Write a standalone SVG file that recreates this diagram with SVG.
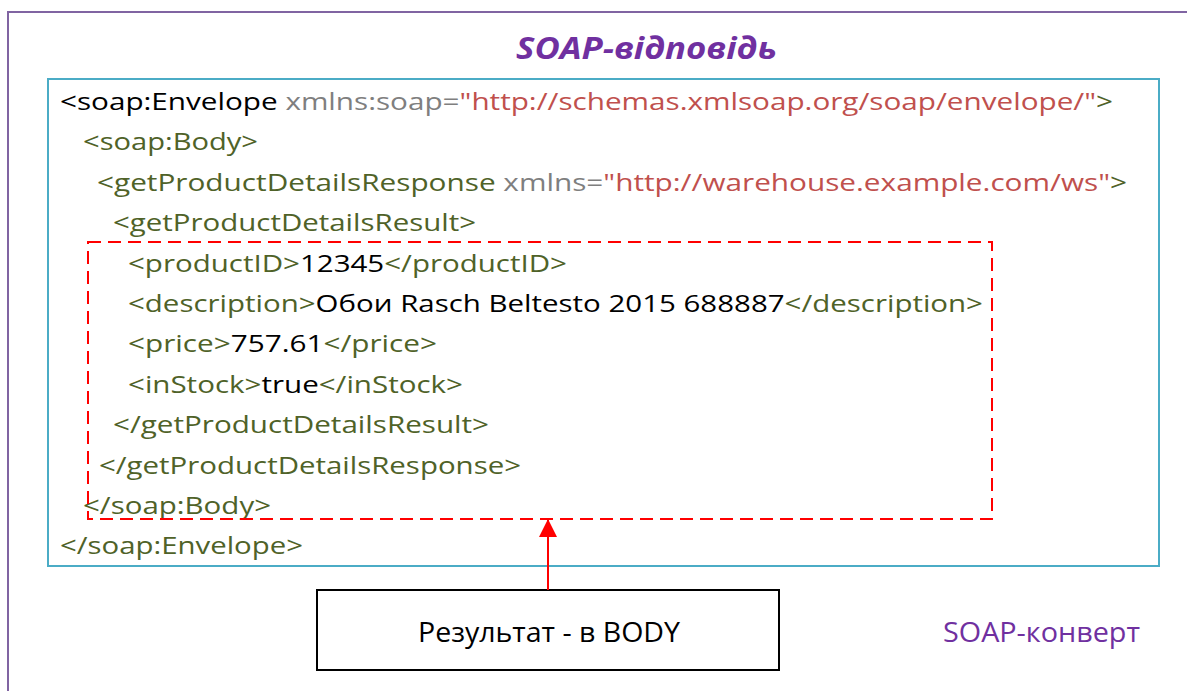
<svg xmlns="http://www.w3.org/2000/svg" width="1187" height="691" viewBox="0 0 1187 691">
  <defs>
    <style>
      .code { font-family: "Open Sans", "Noto Sans", "Liberation Sans", sans-serif; font-size: 23px; }
      .tag { fill: #4F6228; }
      .attr { fill: #7F7F7F; }
      .val { fill: #C0504D; }
      .txt { fill: #000000; }
      .frame { fill: none; stroke: #8064A2; stroke-width: 2; }
      .envelope { fill: #FFFFFF; stroke: #4BACC6; stroke-width: 2; }
      .result { fill: none; stroke: #FF0000; stroke-width: 2; stroke-dasharray: 13 7; }
      .label { font-family: "Open Sans", "Noto Sans", "Liberation Sans", sans-serif; }
    </style>
    <marker id="arrowHead" markerWidth="18" markerHeight="18" refX="18" refY="9" orient="auto" markerUnits="userSpaceOnUse">
      <path d="M0,0 L18,9 L0,18 Z" fill="#FF0000"/>
    </marker>
  </defs>

  <rect width="1187" height="691" fill="#FFFFFF"/>

  <!-- outer frame: top and left edges only -->
  <g id="outer-frame">
    <path class="frame" d="M8,691 L8,12 L1187,12"/>
  </g>

  <g id="title">
    <text x="516" y="59" class="label" font-size="31" font-weight="bold" font-style="italic" fill="#7030A0" textLength="261" lengthAdjust="spacingAndGlyphs">SOAP-відповідь</text>
  </g>

  <!-- SOAP envelope with XML listing -->
  <g id="envelope">
    <rect class="envelope" x="48" y="79" width="1111" height="487"/>
    <g class="code">
      <text x="60" y="110" textLength="1053" lengthAdjust="spacingAndGlyphs"><tspan class="txt">&lt;soap:Envelope</tspan><tspan class="attr"> xmlns:soap=</tspan><tspan class="val">"http://schemas.xmlsoap.org/soap/envelope/"</tspan><tspan class="tag">&gt;</tspan></text>
      <text x="83" y="150.4" textLength="175" lengthAdjust="spacingAndGlyphs" class="tag">&lt;soap:Body&gt;</text>
      <text x="97" y="190.8" textLength="1030" lengthAdjust="spacingAndGlyphs"><tspan class="tag">&lt;getProductDetailsResponse</tspan><tspan class="attr"> xmlns=</tspan><tspan class="val">"http://warehouse.example.com/ws"</tspan><tspan class="tag">&gt;</tspan></text>
      <text x="113" y="231.2" textLength="363" lengthAdjust="spacingAndGlyphs" class="tag">&lt;getProductDetailsResult&gt;</text>
      <text x="128" y="271.6" textLength="439" lengthAdjust="spacingAndGlyphs"><tspan class="tag">&lt;productID&gt;</tspan><tspan class="txt">12345</tspan><tspan class="tag">&lt;/productID&gt;</tspan></text>
      <text x="128" y="312" textLength="855" lengthAdjust="spacingAndGlyphs"><tspan class="tag">&lt;description&gt;</tspan><tspan class="txt">Обои Rasch Beltesto 2015 688887</tspan><tspan class="tag">&lt;/description&gt;</tspan></text>
      <text x="128" y="352.4" textLength="309" lengthAdjust="spacingAndGlyphs"><tspan class="tag">&lt;price&gt;</tspan><tspan class="txt">757.61</tspan><tspan class="tag">&lt;/price&gt;</tspan></text>
      <text x="128" y="392.8" textLength="335" lengthAdjust="spacingAndGlyphs"><tspan class="tag">&lt;inStock&gt;</tspan><tspan class="txt">true</tspan><tspan class="tag">&lt;/inStock&gt;</tspan></text>
      <text x="113" y="433.2" textLength="376" lengthAdjust="spacingAndGlyphs" class="tag">&lt;/getProductDetailsResult&gt;</text>
      <text x="99" y="473.6" textLength="422" lengthAdjust="spacingAndGlyphs" class="tag">&lt;/getProductDetailsResponse&gt;</text>
      <text x="83" y="514" textLength="188" lengthAdjust="spacingAndGlyphs" class="tag">&lt;/soap:Body&gt;</text>
      <text x="60" y="554.4" textLength="243" lengthAdjust="spacingAndGlyphs" class="tag">&lt;/soap:Envelope&gt;</text>
    </g>
  </g>

  <!-- highlighted result region -->
  <g id="result-region">
    <rect class="result" x="88" y="242" width="904" height="277"/>
  </g>

  <g id="result-note">
    <rect x="317" y="590" width="462" height="80" fill="#FFFFFF" stroke="#000000" stroke-width="2"/>
    <text x="418" y="642" class="label" font-size="28" fill="#000000" textLength="262" lengthAdjust="spacingAndGlyphs">Результат - в BODY</text>
  </g>

  <g id="envelope-label">
    <text x="943" y="642" class="label" font-size="28" fill="#7030A0" textLength="197" lengthAdjust="spacingAndGlyphs">SOAP-конверт</text>
  </g>

  <g id="connectors">
    <line x1="548" y1="590" x2="548" y2="519" stroke="#FF0000" stroke-width="2" marker-end="url(#arrowHead)"/>
  </g>
</svg>
